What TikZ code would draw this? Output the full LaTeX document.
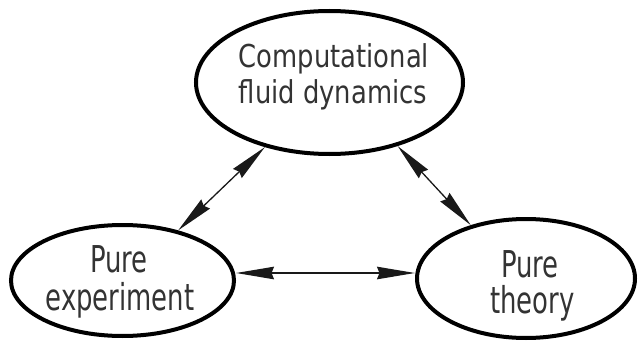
\documentclass[tikz,border=0pt]{standalone}
\usepackage{fontspec}
\usetikzlibrary{shapes.geometric,arrows.meta}
\newfontfamily\topfont[FakeStretch=0.82]{DejaVu Sans}
\newfontfamily\botfont[FakeStretch=0.70]{DejaVu Sans}
\begin{document}
\begin{tikzpicture}[x=1pt,y=1pt,
  bubble/.style={ellipse, draw=black, line width=4pt, inner sep=0pt},
  toptext/.style={anchor=base, inner sep=0pt, text=black!80, font=\topfont\fontsize{31.5}{35}\selectfont},
  bottext/.style={anchor=base, inner sep=0pt, text=black!80, font=\botfont\fontsize{37}{40}\selectfont},
  tipshape/.style={Stealth[length=38pt,width=12.5pt,inset=2.5pt]},
  link/.style={draw=black!90, line width=1.3pt, {Stealth[length=38pt,width=12.5pt,inset=2.5pt]}-{Stealth[length=38pt,width=12.5pt,inset=2.5pt]}}
]
\useasboundingbox (0,0) rectangle (638,341);
\node[bubble, minimum width=267pt, minimum height=143pt] (cfd) at (329.5,258.5) {};
\node[bubble, minimum width=223pt, minimum height=111pt] (exp) at (122.5,60.5) {};
\node[bubble, minimum width=218pt, minimum height=119pt] (thy) at (526,62.5) {};
\node[toptext] (t1) at (334,273) {Computational};
\node[toptext] (t2) at (333,238) {fluid dynamics};
\node[bottext] (l1) at (119,69) {Pure};
\node[bottext] (l2) at (120,31) {experiment};
\node[bottext] (r1) at (530,64) {Pure};
\node[bottext] (r2) at (532.5,28) {theory};
\draw[link] (cfd.225.4) -- (exp.42.9);
\draw[link] (cfd.-43.7) -- (thy.136.2);
\draw[link] (exp.east |- 0,68) -- (thy.west |- 0,68);
\end{tikzpicture}
\end{document}
